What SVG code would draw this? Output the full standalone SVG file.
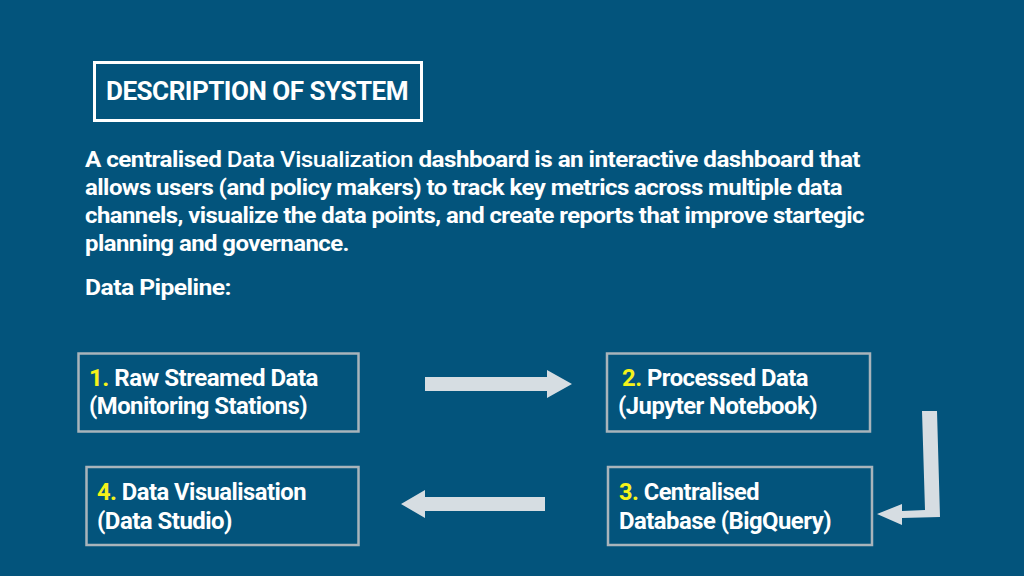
<svg xmlns="http://www.w3.org/2000/svg" width="1024" height="576" viewBox="0 0 1024 576">
<style>
text{font-family:Roboto,"Liberation Sans",sans-serif;font-weight:700;fill:#fff;letter-spacing:-0.5px}
.p{font-size:22px}
.n{font-size:23px}
.y{fill:#f5f21a}
.box{fill:none;stroke:#a9b4bb;stroke-width:2.5}
.arr{fill:#d6dde2}
</style>
<rect width="1024" height="576" fill="#03547c"/>
<g id="title">
<rect x="94.5" y="62.5" width="327" height="58" fill="none" stroke="#fff" stroke-width="3"/>
<text x="106" y="100" font-size="25" textLength="302" lengthAdjust="spacingAndGlyphs">DESCRIPTION OF SYSTEM</text>
</g>
<g id="description">
<text class="p" x="85" y="167" textLength="775" lengthAdjust="spacingAndGlyphs">A centralised <tspan font-weight="500">Data Visualization</tspan> dashboard is an interactive dashboard that</text>
<text class="p" x="85" y="195" textLength="757" lengthAdjust="spacingAndGlyphs">allows users (and policy makers) to track key metrics across multiple data</text>
<text class="p" x="85" y="223" textLength="779" lengthAdjust="spacingAndGlyphs">channels, visualize the data points, and create reports that improve startegic</text>
<text class="p" x="85" y="251" textLength="264" lengthAdjust="spacingAndGlyphs">planning and governance.</text>
<text class="p" x="85" y="295" font-weight="500" textLength="146" lengthAdjust="spacingAndGlyphs">Data Pipeline:</text>
</g>
<g id="node1">
<rect class="box" x="78.5" y="353.5" width="280" height="78"/>
<text class="n" x="89" y="386" textLength="229" lengthAdjust="spacingAndGlyphs"><tspan class="y">1.</tspan> Raw Streamed Data</text>
<text class="n" x="89" y="414" textLength="218" lengthAdjust="spacingAndGlyphs">(Monitoring Stations)</text>
</g>
<g id="node2">
<rect class="box" x="607" y="353.5" width="263" height="78"/>
<text class="n" x="622" y="386" textLength="186" lengthAdjust="spacingAndGlyphs"><tspan class="y">2.</tspan> Processed Data</text>
<text class="n" x="618" y="414" textLength="199" lengthAdjust="spacingAndGlyphs">(Jupyter Notebook)</text>
</g>
<g id="node3">
<rect class="box" x="608" y="467" width="264" height="78"/>
<text class="n" x="619" y="500" textLength="140" lengthAdjust="spacingAndGlyphs"><tspan class="y">3.</tspan> Centralised</text>
<text class="n" x="619" y="529" textLength="212" lengthAdjust="spacingAndGlyphs">Database (BigQuery)</text>
</g>
<g id="node4">
<rect class="box" x="86.5" y="467" width="272" height="78"/>
<text class="n" x="97" y="500" textLength="209" lengthAdjust="spacingAndGlyphs"><tspan class="y">4.</tspan> Data Visualisation</text>
<text class="n" x="97" y="529" textLength="135" lengthAdjust="spacingAndGlyphs">(Data Studio)</text>
</g>
<g id="connectors">
<polygon class="arr" points="425,377 547,377 547,370 572,384 547,398 547,391 425,391"/>
<polygon class="arr" points="545,497 425,497 425,490 401,504 425,518 425,511 545,511"/>
<polygon class="arr" points="922,411 937,411 940,517 902,518 902,525 877,514 902,504 902,511 925,510"/>
</g>
</svg>
